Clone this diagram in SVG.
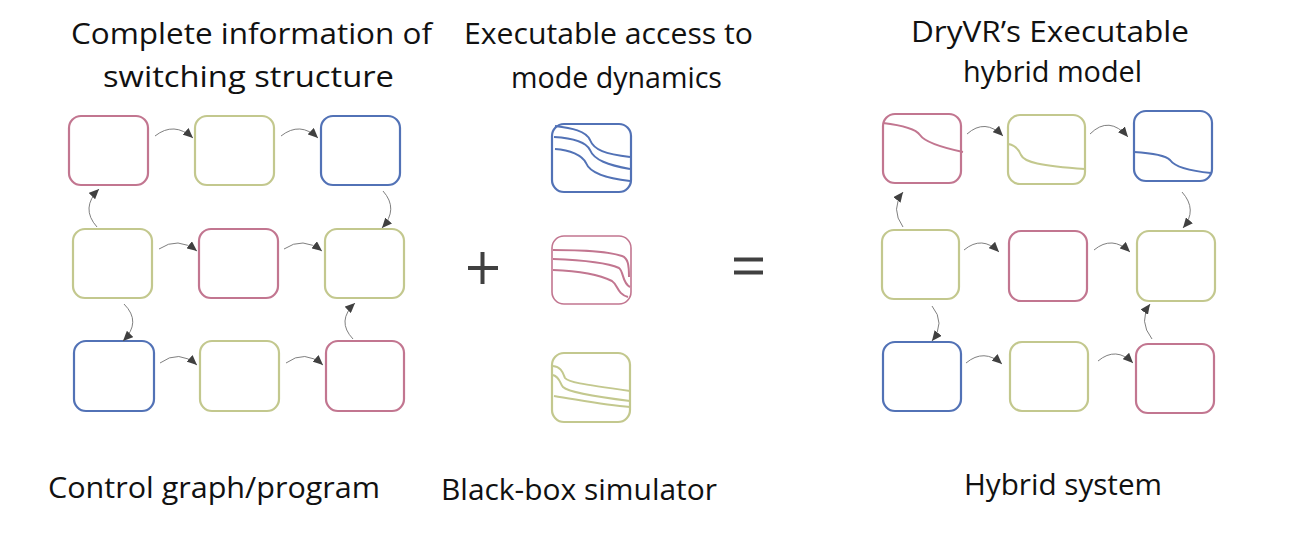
<svg xmlns="http://www.w3.org/2000/svg" width="1294" height="546" viewBox="0 0 1294 546">
<style>
  .t { font-family: "Open Sans", "Noto Sans", sans-serif; font-size: 30px; fill: #111; }
  .box { fill: #fff; stroke-width: 2.2; }
  .pk { stroke: #C27690; }
  .gr { stroke: #C3C88E; }
  .bl { stroke: #5272B6; }
  .crv { fill: none; stroke-width: 2; }
  .arr { fill: none; stroke: #707070; stroke-width: 0.9; marker-end: url(#ah); }
  .op { stroke: #404040; stroke-width: 4; }
</style>
<defs>
  <marker id="ah" markerUnits="userSpaceOnUse" markerWidth="11" markerHeight="9" refX="10" refY="4.5" orient="auto">
    <path d="M0,0 L10,4.5 L0,9 z" fill="#404040"/>
  </marker>
</defs>
<rect width="1294" height="546" fill="#fff"/>

<g id="titles">
  <text class="t" x="71" y="44" textLength="361" lengthAdjust="spacingAndGlyphs">Complete information of</text>
  <text class="t" x="103" y="87" textLength="291" lengthAdjust="spacingAndGlyphs">switching structure</text>
  <text class="t" x="464" y="44" textLength="289" lengthAdjust="spacingAndGlyphs">Executable access to</text>
  <text class="t" x="511" y="88" textLength="211" lengthAdjust="spacingAndGlyphs">mode dynamics</text>
  <text class="t" x="911" y="42" textLength="278" lengthAdjust="spacingAndGlyphs">DryVR’s Executable</text>
  <text class="t" x="963" y="82" textLength="179" lengthAdjust="spacingAndGlyphs">hybrid model</text>
  <text class="t" x="48" y="498" textLength="332" lengthAdjust="spacingAndGlyphs">Control graph/program</text>
  <text class="t" x="441" y="500" textLength="276" lengthAdjust="spacingAndGlyphs">Black-box simulator</text>
  <text class="t" x="964" y="495" textLength="198" lengthAdjust="spacingAndGlyphs">Hybrid system</text>
</g>

<g id="left-graph">
  <g id="L11"><rect class="box pk" x="69" y="116" width="79" height="69" rx="12"/></g>
  <g id="L12"><rect class="box gr" x="195" y="116" width="79" height="69" rx="12"/></g>
  <g id="L13"><rect class="box bl" x="321" y="116" width="79" height="69" rx="12"/></g>
  <g id="L21"><rect class="box gr" x="73" y="229" width="79" height="69" rx="12"/></g>
  <g id="L22"><rect class="box pk" x="199" y="229" width="79" height="69" rx="12"/></g>
  <g id="L23"><rect class="box gr" x="325" y="229" width="79" height="69" rx="12"/></g>
  <g id="L31"><rect class="box bl" x="74" y="341" width="80" height="70" rx="12"/></g>
  <g id="L32"><rect class="box gr" x="200" y="341" width="79" height="70" rx="12"/></g>
  <g id="L33"><rect class="box pk" x="326" y="341" width="78" height="70" rx="12"/></g>
</g>

<g id="middle">
  <g id="M1">
    <rect class="box bl" x="552" y="124" width="79" height="68" rx="12"/>
    <path class="crv bl" d="M555,126 C572,128 586,131 590,140 C594,150 605,154 630,157"/>
    <path class="crv bl" d="M554,137 C572,138 586,142 590,150 C594,160 608,165 630,169"/>
    <path class="crv bl" d="M555,149 C570,150 582,155 586,163 C590,173 605,178 630,181"/>
  </g>
  <g id="M2">
    <rect class="box pk" x="552" y="236" width="79" height="68" rx="12" style="stroke-width:1.6"/>
    <path class="crv pk" d="M553,250 C580,250 610,252 622,256 C628,258 629,265 629,277"/>
    <path class="crv pk" d="M553,259 C580,260 608,263 619,268 C624,272 622,283 630,287"/>
    <path class="crv pk" d="M553,270 C578,271 600,275 612,281 C618,285 617,294 628,297"/>
  </g>
  <g id="M3">
    <rect class="box gr" x="552" y="353" width="78" height="69" rx="12"/>
    <path class="crv gr" d="M553,366 C562,367 563,374 565,378 C568,382 580,384 630,391"/>
    <path class="crv gr" d="M553,375 C560,377 560,384 563,387 C567,391 590,396 630,401"/>
    <path class="crv gr" d="M554,396 C580,400 605,405 630,407"/>
  </g>
  <g id="plus"><line class="op" x1="468" y1="268" x2="498" y2="268"/><line class="op" x1="482.5" y1="252" x2="482.5" y2="284"/></g>
  <g id="equals"><line class="op" x1="734" y1="259.5" x2="763" y2="259.5"/><line class="op" x1="734" y1="272.5" x2="763" y2="272.5"/></g>
</g>

<g id="right-graph">
  <g id="R11">
    <rect class="box pk" x="883" y="114" width="78" height="69" rx="12"/>
    <path class="crv pk" d="M883,123 C900,125 915,128 920,135 C924,141 935,146 963,152"/>
  </g>
  <g id="R12">
    <rect class="box gr" x="1008" y="115" width="77" height="69" rx="12"/>
    <path class="crv gr" d="M1008,144 C1016,145 1019,150 1021,155 C1024,162 1040,166 1085,169"/>
  </g>
  <g id="R13">
    <rect class="box bl" x="1134" y="111" width="78" height="70" rx="12"/>
    <path class="crv bl" d="M1134,152 C1150,153 1165,155 1170,160 C1175,167 1190,171 1211,173"/>
  </g>
  <g id="R21"><rect class="box gr" x="882" y="230" width="77" height="69" rx="12"/></g>
  <g id="R22"><rect class="box pk" x="1009" y="231" width="78" height="70" rx="12"/></g>
  <g id="R23"><rect class="box gr" x="1137" y="231" width="78" height="70" rx="12"/></g>
  <g id="R31"><rect class="box bl" x="883" y="342" width="78" height="69" rx="12"/></g>
  <g id="R32"><rect class="box gr" x="1010" y="342" width="78" height="69" rx="12"/></g>
  <g id="R33"><rect class="box pk" x="1136" y="344" width="78" height="69" rx="12"/></g>
</g>

<g id="connectors">
  <path class="arr" d="M155,136 Q174,121 193,138"/>
  <path class="arr" d="M281,136 Q300,121 318,138"/>
  <path class="arr" d="M159,249 Q178,236 197,251"/>
  <path class="arr" d="M284,249 Q303,236 322,251"/>
  <path class="arr" d="M160,363 Q179,349 197,365"/>
  <path class="arr" d="M286,363 Q305,349 323,365"/>
  <path class="arr" d="M97,227 Q80,208 99,189"/>
  <path class="arr" d="M383,191 Q399,209 382,228"/>
  <path class="arr" d="M124,304 Q142,322 123,341"/>
  <path class="arr" d="M353,339 Q336,321 355,303"/>

  <path class="arr" d="M967,134 Q985,118 1003,136"/>
  <path class="arr" d="M1090,134 Q1109,115 1128,137"/>
  <path class="arr" d="M964,250 Q982,235 999,252"/>
  <path class="arr" d="M1094,250 Q1112,235 1130,252"/>
  <path class="arr" d="M966,363 Q984,348 1002,364"/>
  <path class="arr" d="M1098,361 Q1116,346 1133,363"/>
  <path class="arr" d="M903,227 Q890,209 903,192"/>
  <path class="arr" d="M1182,192 Q1198,210 1183,228"/>
  <path class="arr" d="M932,306 Q946,323 932,341"/>
  <path class="arr" d="M1152,339 Q1138,321 1150,304"/>
</g>
</svg>
